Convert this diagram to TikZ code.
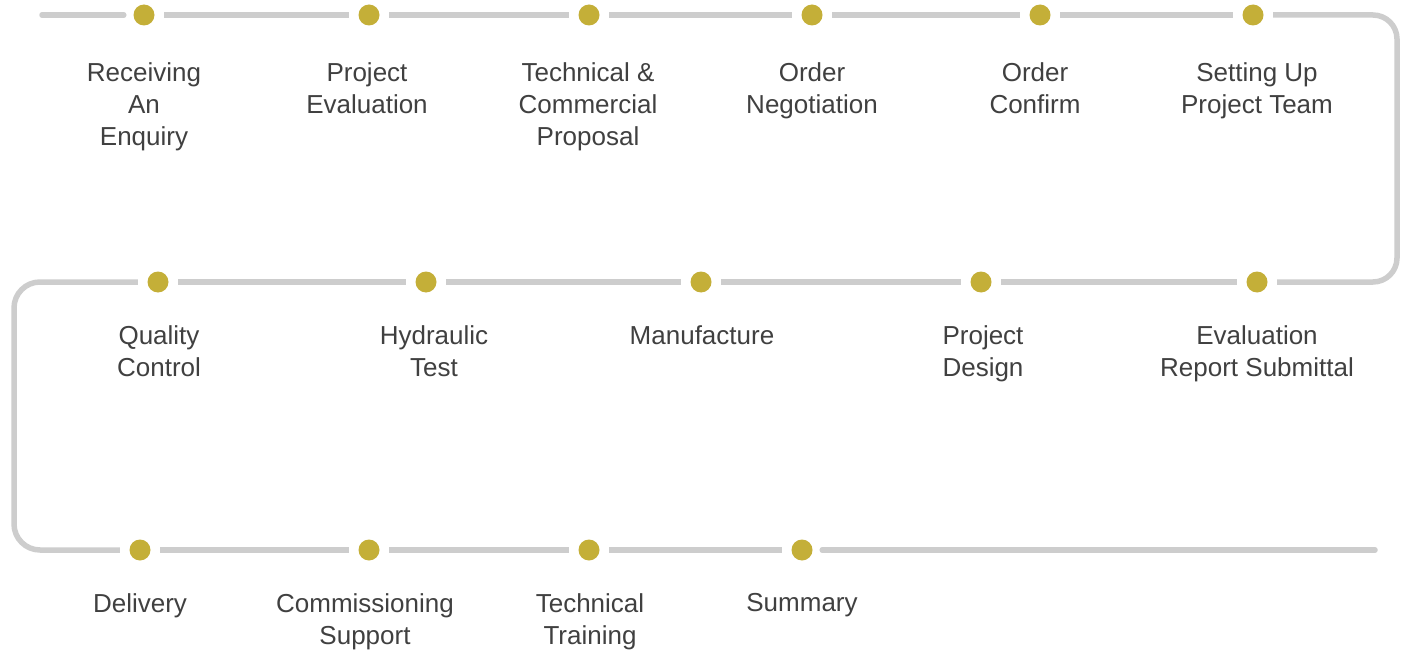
\documentclass[tikz,border=0pt]{standalone}
\usepackage{fontspec}
\setmainfont{Liberation Sans}
\definecolor{trackc}{HTML}{CDCDCD}
\definecolor{dotc}{HTML}{C4AF38}
\definecolor{txtc}{HTML}{404040}
\begin{document}
\begin{tikzpicture}[x=1pt,y=-1pt,
  dot/.style={circle,fill=dotc,inner sep=0pt,minimum size=21pt},
  track/.style={draw=trackc,line width=5.5pt},
  seg/.style={track,shorten <=9.5pt,shorten >=9.5pt},
  lab/.style={anchor=north,inner sep=0pt,align=center,text=txtc,font={\fontsize{26}{32}\selectfont}}]
\useasboundingbox (0,0) rectangle (1401,650);
% dots
\node[dot] (d1) at (144,15) {};
\node[dot] (d2) at (369,15) {};
\node[dot] (d3) at (589,15) {};
\node[dot] (d4) at (812,15) {};
\node[dot] (d5) at (1040,15) {};
\node[dot] (d6) at (1253,15) {};
\node[dot] (d7) at (1257,282) {};
\node[dot] (d8) at (981,282) {};
\node[dot] (d9) at (701,282) {};
\node[dot] (d10) at (426,282) {};
\node[dot] (d11) at (158,282) {};
\node[dot] (d12) at (140,550) {};
\node[dot] (d13) at (369,550) {};
\node[dot] (d14) at (589,550) {};
\node[dot] (d15) at (802,550) {};
% path helper points
\coordinate (s) at (42,15);
\coordinate (r1) at (1397,15);
\coordinate (r2) at (1397,282);
\coordinate (q1) at (14,282);
\coordinate (q2) at (14,550);
\coordinate (e) at (1375,550);
% track
\draw[track,line cap=round,shorten >=9.5pt] (s) -- (d1);
\draw[seg] (d1) -- (d2);
\draw[seg] (d2) -- (d3);
\draw[seg] (d3) -- (d4);
\draw[seg] (d4) -- (d5);
\draw[seg] (d5) -- (d6);
\draw[seg,rounded corners=24pt] (d6) -- (r1) -- (r2) -- (d7);
\draw[seg] (d7) -- (d8);
\draw[seg] (d8) -- (d9);
\draw[seg] (d9) -- (d10);
\draw[seg] (d10) -- (d11);
\draw[seg,rounded corners=26pt] (d11) -- (q1) -- (q2) -- (d12);
\draw[seg] (d12) -- (d13);
\draw[seg] (d13) -- (d14);
\draw[seg] (d14) -- (d15);
\draw[track,line cap=round,shorten <=9.5pt] (d15) -- (e);
% labels
\node[lab] (l1) at (144,62) {Receiving\\An\\Enquiry};
\node[lab] (l2) at (367,62) {Project\\Evaluation};
\node[lab] (l3) at (588,62) {Technical \&\\Commercial\\Proposal};
\node[lab] (l4) at (812,62) {Order\\Negotiation};
\node[lab] (l5) at (1035,62) {Order\\Confirm};
\node[lab] (l6) at (1257,62) {Setting Up\\Project Team};
\node[lab] (l7) at (1257,325) {Evaluation\\Report Submittal};
\node[lab] (l8) at (983,325) {Project\\Design};
\node[lab] (l9) at (702,325) {Manufacture};
\node[lab] (l10) at (434,325) {Hydraulic\\Test};
\node[lab] (l11) at (159,325) {Quality\\Control};
\node[lab] (l12) at (140,593) {Delivery};
\node[lab] (l13) at (365,593) {Commissioning\\Support};
\node[lab] (l14) at (590,593) {Technical\\Training};
\node[lab] (l15) at (802,593) {Summary};
\end{tikzpicture}
\end{document}
